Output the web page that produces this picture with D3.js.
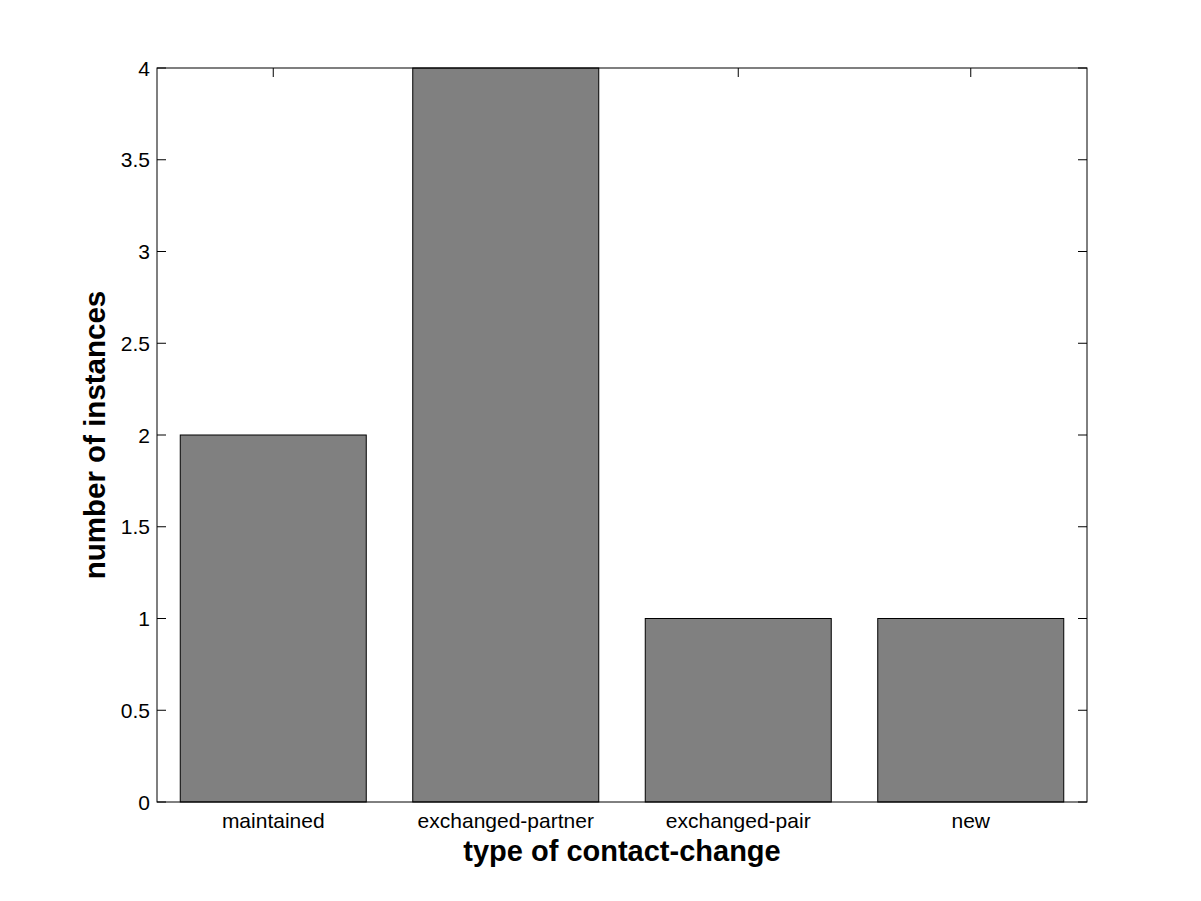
<!DOCTYPE html>
<html><head><meta charset="utf-8">
<script src="https://cdn.jsdelivr.net/npm/d3@7"></script>
<style>body{margin:0;background:#fff}svg{display:block}text{font-family:"Liberation Sans",Arial,sans-serif}</style>
</head><body>
<script>
const categories = ["maintained","exchanged-partner","exchanged-pair","new"];
const values = [2,4,1,1];
const yTicks = [0,0.5,1,1.5,2,2.5,3,3.5,4];
const yTickLabels = ["0","0.5","1","1.5","2","2.5","3","3.5","4"];
const xTitle = "type of contact-change";
const yTitle = "number of instances";

const W=1201,H=901, L=157,R=1087,T=68,B=802, tick=9;
const svg=d3.select("body").append("svg").attr("width",W).attr("height",H);
const x=d3.scaleLinear().domain([0.5,categories.length+0.5]).range([L,R]);
const y=d3.scaleLinear().domain([0,4]).range([B,T]);
const bw=(x(1)-x(0))*0.8;

const g=svg.append("g").attr("stroke","#000").attr("stroke-width",1);
yTicks.forEach(v=>{
  g.append("line").attr("x1",L).attr("x2",L+tick).attr("y1",y(v)).attr("y2",y(v));
  g.append("line").attr("x1",R).attr("x2",R-tick).attr("y1",y(v)).attr("y2",y(v));
});
categories.forEach((c,i)=>{
  g.append("line").attr("x1",x(i+1)).attr("x2",x(i+1)).attr("y1",T).attr("y2",T+tick);
  g.append("line").attr("x1",x(i+1)).attr("x2",x(i+1)).attr("y1",B).attr("y2",B-tick);
});

svg.append("g").selectAll("rect").data(values).join("rect")
 .attr("x",(d,i)=>x(i+1)-bw/2).attr("width",bw)
 .attr("y",d=>y(d)).attr("height",d=>y(0)-y(d))
 .attr("fill","#808080").attr("stroke","#000").attr("stroke-width",1);

svg.append("rect").attr("x",L).attr("y",T).attr("width",R-L).attr("height",B-T)
 .attr("fill","none").attr("stroke","#000").attr("stroke-width",1);

svg.append("g").selectAll("text").data(yTicks).join("text")
 .attr("x",L-7).attr("y",d=>y(d)).attr("dy","0.36em").attr("text-anchor","end")
 .attr("font-size",21).text((d,i)=>yTickLabels[i]);
svg.append("g").selectAll("text").data(categories).join("text")
 .attr("x",(d,i)=>x(i+1)).attr("y",B+26).attr("text-anchor","middle")
 .attr("font-size",21).text(d=>d);

svg.append("text").attr("x",(L+R)/2).attr("y",861).attr("text-anchor","middle")
 .attr("font-size",29).attr("font-weight","bold").text(xTitle);
svg.append("text").attr("transform",`translate(105,${(T+B)/2}) rotate(-90)`).attr("text-anchor","middle")
 .attr("font-size",29.5).attr("font-weight","bold").text(yTitle);
</script>
</body></html>
